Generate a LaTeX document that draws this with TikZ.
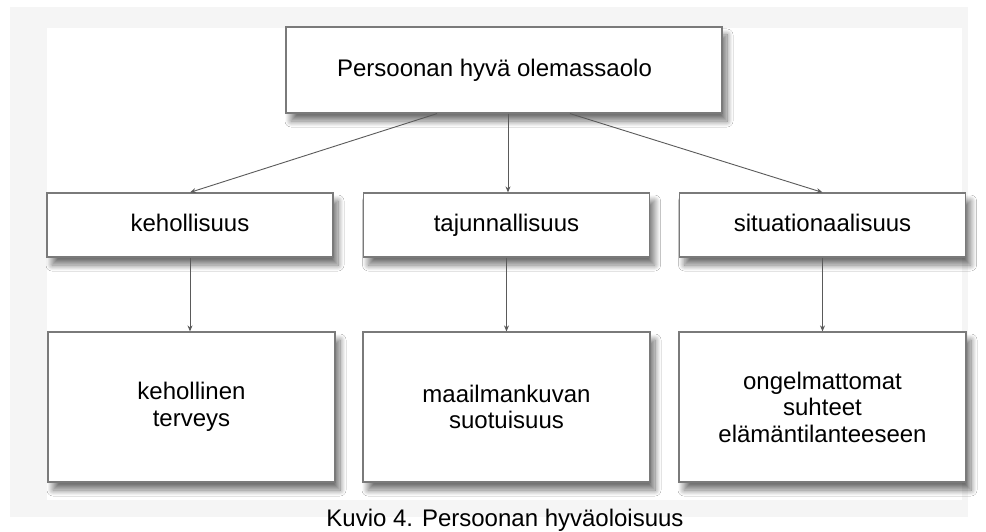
\documentclass[tikz,border=0pt]{standalone}
\usepackage{fontspec}
\setmainfont{Liberation Sans}
\usetikzlibrary{shadows.blur,arrows.meta,calc}
\definecolor{boxline}{HTML}{7A7A7A}
\definecolor{linkline}{HTML}{5A5A5A}
\definecolor{pagegray}{HTML}{F5F5F5}

\begin{document}
\begin{tikzpicture}[x=1pt,y=-1pt,
  box/.style={draw=boxline, line width=1.2pt, fill=white, inner sep=0pt,
    align=center, font=\fontsize{24}{26.5}\selectfont,
    blur shadow={shadow xshift=5pt, shadow yshift=-8pt,
      shadow blur radius=6pt, shadow blur steps=12, shadow opacity=55}},
  oneline/.style={text height=17.5pt, text depth=5pt},
  midbox/.style={box, oneline, minimum width=286pt, minimum height=64pt},
  lowbox/.style={box, minimum width=287pt, minimum height=150pt},
  link/.style={draw=linkline, line width=0.9pt,
    -{Stealth[length=6pt,width=5pt]}}]

\useasboundingbox (0,0) rectangle (986,532);
\clip (0,0) rectangle (986,532);

% page and panel background
\fill[white] (0,0) rectangle (986,532);
\fill[pagegray] (10,7) rectangle (968,517);
\fill[white] (47,28) rectangle (962,500);

% top level
\node[box, oneline, minimum width=436pt, minimum height=86pt] (top) at (504,70)
  {Persoonan hyvä olemassaolo\hspace*{19pt}};

% middle level
\node[midbox] (keho) at (190,225) {kehollisuus};
\node[midbox] (taju) at (506.5,225) {tajunnallisuus};
\node[midbox] (situ) at (822.5,225) {situationaalisuus};

% bottom level
\node[lowbox] (terv) at (191.5,407) {kehollinen\\terveys};
\node[lowbox] (maai) at (506.5,407) {maailmankuvan\\suotuisuus};
\node[lowbox] (suht) at (822.5,407) {ongelmattomat\\suhteet\\elämäntilanteeseen};

% start points on the bottom edge of the top box
\coordinate (topL) at ($(top.south)+(-67,0)$);
\coordinate (topM) at ($(top.south)+(4,0)$);
\coordinate (topR) at ($(top.south)+(66,0)$);

% connectors
\draw[link] (topL) -- (keho.north);
\draw[link] (topM) -- (topM |- taju.north);
\draw[link] (topR) -- (situ.north);
\draw[link] (keho.south) -- (keho.south |- terv.north);
\draw[link] (taju.south) -- (maai.north);
\draw[link] (situ.south) -- (suht.north);

% caption
\node[font=\fontsize{24}{26}\selectfont, anchor=base, inner sep=0pt] (caption)
  at (505,526) {Kuvio 4. Persoonan hyväoloisuus};
\end{tikzpicture}
\end{document}
